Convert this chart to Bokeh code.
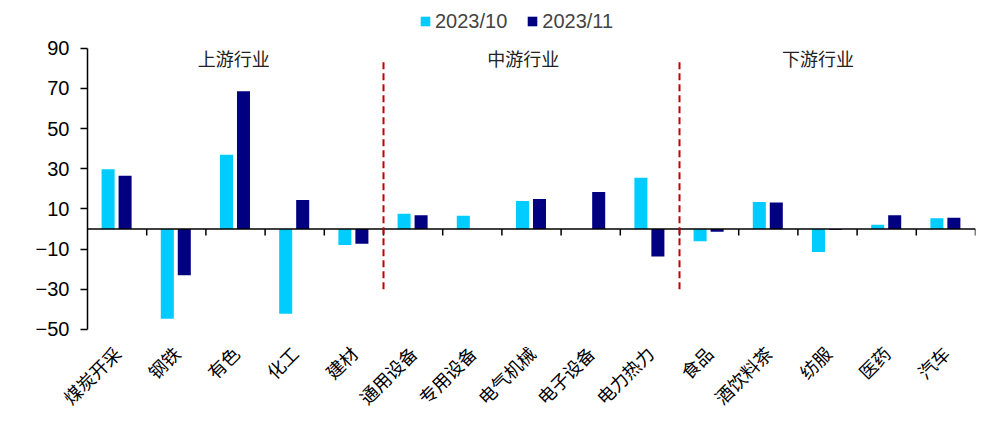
import math
from bokeh.plotting import figure
from bokeh.models import (Range1d, FixedTicker, Legend, LegendItem, ColumnDataSource)
from bokeh.core.properties import value
from bokeh.embed import file_html
from bokeh.resources import INLINE

# Industry categories (upstream / midstream / downstream)
industries = ["煤炭开采", "钢铁", "有色", "化工", "建材",
              "通用设备", "专用设备", "电气机械", "电子设备", "电力热力",
              "食品", "酒饮料茶", "纺服", "医药", "汽车"]
oct_2023 = [29.8, -44.7, 37.0, -42.2, -7.9,
            7.6, 6.6, 14.0, 0.0, 25.6,
            -6.1, 13.5, -11.4, 2.1, 5.4]
nov_2023 = [26.6, -23.0, 68.6, 14.5, -7.3,
            6.9, 0.0, 15.0, 18.5, -13.7,
            -1.3, 13.2, -0.3, 6.9, 5.6]
series_names = ["2023/10", "2023/11"]
group_names = ["上游行业", "中游行业", "下游行业"]
group_size = 5
y_ticks = [-50, -30, -10, 10, 30, 50, 70, 90]

LIGHT = "#00CCFF"
DARK = "#000080"
CJK = "Noto Sans CJK SC"
LATIN = "Liberation Sans"

n = len(industries)
idx = list(range(n))

# value axis is bounded to -50..90; the range leaves room for the legend on top
p = figure(width=1008, height=421, output_backend="svg", toolbar_location=None,
           x_range=Range1d(0, n), y_range=Range1d(-52.0, 113.8),
           min_border_left=87, min_border_right=33, min_border_top=0,
           min_border_bottom=87)
p.outline_line_color = None
p.xgrid.visible = False
p.ygrid.visible = False
p.background_fill_color = "white"

# dodged bars
bar_w = 0.22
src = ColumnDataSource(dict(
    x10=[i + 0.5 - 0.152 for i in idx],
    x11=[i + 0.5 + 0.135 for i in idx],
    v10=oct_2023, v11=nov_2023))
r10 = p.vbar(x="x10", top="v10", bottom=0, width=bar_w, source=src,
             fill_color=LIGHT, line_color=None)
r11 = p.vbar(x="x11", top="v11", bottom=0, width=bar_w, source=src,
             fill_color=DARK, line_color=None)

# zero line acting as the category axis, with ticks at category boundaries
p.segment(x0=[0], y0=[0], x1=[n], y1=[0], line_color="black", line_width=1.5)
p.segment(x0=list(range(1, n + 1)), y0=[0] * n, x1=list(range(1, n + 1)),
          y1=[-3.2] * n, line_color="black", line_width=1.5)

# dashed separators between industry groups
seps = [group_size, 2 * group_size]
p.segment(x0=seps, y0=[-30] * 2, x1=seps, y1=[83] * 2,
          line_color="#C00000", line_width=2, line_dash="7 4")

# group titles
p.text(x=[2.47, 7.36, 12.34], y=[85, 85, 85], text=group_names,
       text_font=value(CJK), text_font_size="18px", text_color="#222222",
       text_align="center", text_baseline="middle")

# y axis
ya = p.yaxis[0]
ya.bounds = (-50, 90)
ya.ticker = FixedTicker(ticks=y_ticks)
ya.major_tick_in = 0
ya.major_tick_out = 7
ya.minor_tick_line_color = None
ya.axis_line_width = 1.5
ya.major_tick_line_width = 1.5
ya.major_label_text_font = LATIN
ya.major_label_text_font_size = "20px"
ya.major_label_text_color = "black"
ya.major_label_standoff = 11

# category labels on the bottom axis
xa = p.xaxis[0]
xa.ticker = FixedTicker(ticks=[i + 0.5 for i in idx])
xa.major_label_overrides = {i + 0.5: name for i, name in enumerate(industries)}
xa.axis_line_color = None
xa.major_tick_line_color = None
xa.minor_tick_line_color = None
xa.major_label_orientation = math.pi / 4
xa.major_label_text_font = CJK
xa.major_label_text_font_size = "18px"
xa.major_label_text_color = "black"
xa.major_label_standoff = 10

legend = Legend(items=[LegendItem(label=series_names[0], renderers=[r10]),
                       LegendItem(label=series_names[1], renderers=[r11])],
                orientation="horizontal", location=(332, 300),
                padding=0, margin=0, spacing=19, glyph_width=12, glyph_height=12,
                label_standoff=4, label_text_font=LATIN, label_text_font_size="20px",
                label_height=24, background_fill_alpha=0, border_line_color=None)
p.add_layout(legend, "center")

open("out.html", "w").write(file_html(p, INLINE))
